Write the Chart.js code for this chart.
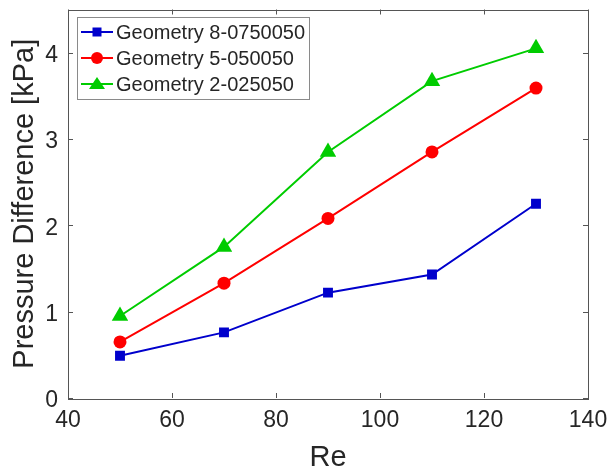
<!DOCTYPE html>
<html>
<head>
<meta charset="utf-8">
<script src="https://cdn.jsdelivr.net/npm/chart.js@4"></script>
<style>
  html, body { margin: 0; padding: 0; background: #fff; }
  #wrap { width: 609px; height: 475px; }
</style>
</head>
<body>
<div id="wrap"><canvas id="chart" width="609" height="475"></canvas></div>
<script>
const re_values = [50, 70, 90, 110, 130];
const geo8 = [0.49, 0.76, 1.22, 1.43, 2.25];
const geo5 = [0.65, 1.33, 2.08, 2.85, 3.59];
const geo2 = [0.95, 1.75, 2.85, 3.67, 4.05];
const series_labels = ["Geometry 8-0750050", "Geometry 5-050050", "Geometry 2-025050"];
const x_ticks = [40, 60, 80, 100, 120, 140];
const y_ticks = [0, 1, 2, 3, 4];

const FONT = "'Liberation Sans', Arial, sans-serif";
const TXT = "#262626";
const AX = "#555555";

function pts(ys) {
    return re_values.map((x, i) => ({x: x, y: ys[i]}));
}

// matlab style box + inward ticks + legend inside the axes
const boxPlugin = {
    id: 'box',
    afterDraw(chart) {
        const ctx = chart.ctx;
        const a = chart.chartArea;
        const xs = chart.scales.x, ys = chart.scales.y;
        ctx.save();
        ctx.strokeStyle = AX;
        ctx.lineWidth = 1;
        ctx.strokeRect(Math.round(a.left) + 0.5, Math.round(a.top) + 0.5,
                       Math.round(a.right - a.left), Math.round(a.bottom - a.top));
        ctx.beginPath();
        x_ticks.forEach(v => {
            const px = Math.round(xs.getPixelForValue(v)) + 0.5;
            ctx.moveTo(px, a.bottom); ctx.lineTo(px, a.bottom - 5);
            ctx.moveTo(px, a.top); ctx.lineTo(px, a.top + 5);
        });
        y_ticks.forEach(v => {
            const py = Math.round(ys.getPixelForValue(v)) + 0.5;
            ctx.moveTo(a.left, py); ctx.lineTo(a.left + 5, py);
            ctx.moveTo(a.right, py); ctx.lineTo(a.right - 5, py);
        });
        ctx.stroke();

        const lx = 77, ly = 17, lw = 232, lh = 82;
        ctx.fillStyle = "#fff";
        ctx.fillRect(lx, ly, lw, lh);
        ctx.strokeStyle = "#8a8a8a";
        ctx.strokeRect(lx + 0.5, ly + 0.5, lw, lh);
        chart.data.datasets.forEach((ds, i) => {
            const cy = ly + 15 + i * 26;
            ctx.strokeStyle = ds.borderColor;
            ctx.lineWidth = 2;
            ctx.beginPath();
            ctx.moveTo(lx + 4, cy); ctx.lineTo(lx + 36, cy);
            ctx.stroke();
            ctx.fillStyle = ds.backgroundColor;
            const mx = lx + 20;
            ctx.beginPath();
            if (ds.pointStyle === 'rect') {
                ctx.rect(mx - 4.5, cy - 4.5, 9, 9);
            } else if (ds.pointStyle === 'circle') {
                ctx.arc(mx, cy, 6, 0, Math.PI * 2);
            } else {
                ctx.moveTo(mx, cy - 7); ctx.lineTo(mx + 8, cy + 5); ctx.lineTo(mx - 8, cy + 5); ctx.closePath();
            }
            ctx.fill();
            ctx.fillStyle = TXT;
            ctx.font = "20px " + FONT;
            ctx.textBaseline = "middle";
            ctx.textAlign = "left";
            ctx.fillText(ds.label, lx + 39, cy + 1);
        });
        ctx.restore();
    }
};

const chart = new Chart(document.getElementById('chart').getContext('2d'), {
    type: 'line',
    data: {
        datasets: [
            {label: series_labels[0], data: pts(geo8), borderColor: "#0000cc", backgroundColor: "#0000cc",
             pointStyle: 'rect', pointRadius: 7, pointBorderWidth: 0, borderWidth: 2},
            {label: series_labels[1], data: pts(geo5), borderColor: "#ff0000", backgroundColor: "#ff0000",
             pointStyle: 'circle', pointRadius: 6.5, pointBorderWidth: 0, borderWidth: 2},
            {label: series_labels[2], data: pts(geo2), borderColor: "#00cc00", backgroundColor: "#00cc00",
             pointStyle: 'triangle', pointRadius: 9.5, pointBorderWidth: 0, borderWidth: 2}
        ]
    },
    options: {
        responsive: false,
        animation: false,
        layout: {padding: {left: 0, right: 21, top: 8, bottom: 0}},
        plugins: {legend: {display: false}, tooltip: {enabled: false}},
        elements: {line: {tension: 0}},
        scales: {
            x: {
                type: 'linear', min: 40, max: 140,
                afterBuildTicks: s => { s.ticks = x_ticks.map(v => ({value: v})); },
                afterFit: s => { s.height = 77; s.paddingLeft = 0; s.paddingRight = 0; },
                grid: {display: false, drawTicks: false},
                border: {display: false},
                ticks: {color: TXT, font: {family: FONT, size: 23}, padding: 9, maxRotation: 0},
                title: {display: true, text: 'Re', color: TXT, font: {family: FONT, size: 29}, padding: {top: 0, bottom: 0}}
            },
            y: {
                min: 0, max: 4.5,
                afterBuildTicks: s => { s.ticks = y_ticks.map(v => ({value: v})); },
                afterFit: s => { s.width = 68; s.paddingTop = 0; s.paddingBottom = 0; },
                grid: {display: false, drawTicks: false},
                border: {display: false},
                ticks: {color: TXT, font: {family: FONT, size: 23}, padding: 10, labelOffset: 3},
                title: {display: true, text: 'Pressure Difference [kPa]', color: TXT, font: {family: FONT, size: 29}, padding: {top: 8, bottom: 0}}
            }
        }
    },
    plugins: [boxPlugin]
});
</script>
</body>
</html>
